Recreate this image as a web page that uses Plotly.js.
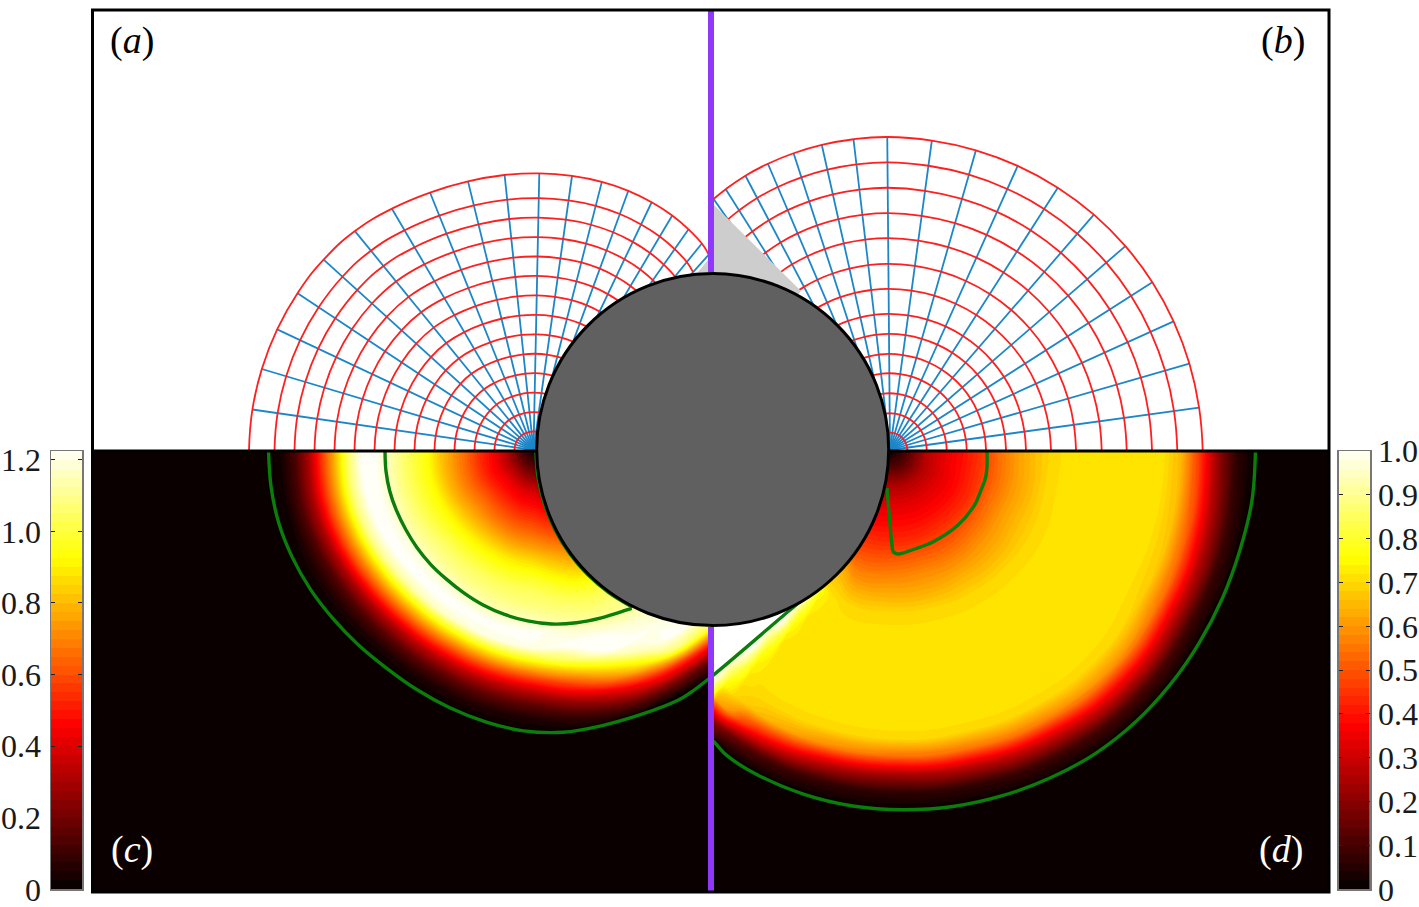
<!DOCTYPE html>
<html><head><meta charset="utf-8">
<script src="https://cdn.plot.ly/plotly-3.0.1.min.js"></script>
<style>html,body{margin:0;padding:0;background:#fff}#g{width:1419px;height:907px}</style>
</head><body><div id="g"></div>
<script>
// ---------- all coordinates (pixels of the reference) ----------
const frameX=[92.5,1329], frameY=[892,10];
const leftC=[533.5,450], rightC=[890,450];
const sphereC=[712.7,449.6], sphereR=176;
const planeX=711;

// mesh, panel (a): ray angles from -x, edge distance per angle, ring radii on the axis
const aAngles=[0,8.2,16.6,25.2,33.6,42.2,50.8,59.6,68.1,76.3,84,91.2,98,104.3,110.1,115.5,120.6,125.1,129.2,131.9];
const aEdge=[284.5,284,283.5,283.3,283.3,283.3,282.5,279.8,277.5,276.5,276.5,276.7,276.8,276.7,276,274.5,272.5,269.7,266.4,262.5];
const aRings=[284.5,259,239,219,199,179,159,139,119,99,79,59,39,19];
// mesh, panel (b): ray angles from +x
const bAngles=[0,7.8,16.1,24.4,32.6,40.9,49.1,57.4,65.8,74,82.3,90.5,96.7,102.6,108,113.1,117.8,122.2,125.1];
const bEdge=[312.7,312,311.6,311.4,311.4,311.4,311.4,311.4,311.5,311.8,312.2,313,312.9,312.6,312,311.2,310,308.2,306.8];
const bRings=[312.7,287.3,262,236.7,211.7,186,161,136,116,96,76.7,56.7,36.7,17.3];

// fields: fraction of the distance to the outer contour, angle rows and values
const rho=[0.01,0.05,0.1,0.15,0.2,0.25,0.3,0.35,0.4,0.45,0.5,0.55,0.6,0.65,0.7,0.75,0.8,0.85,0.9,0.95,1];
const cAngles=[0,7.5,15,22.5,30,37.5,45,52.5,60,67.5,75,82.5,90,100,110,118,125,132,140];
const cOuter=[265,265,265,264,263,262,262,263,265.5,268.5,273,277.5,282,284,284.5,285,287,292,298];
const cField=[
[.05,.15,.32,.44,.52,.62,.71,.8,.91,.98,1.05,1.13,1.2,1.2,1.02,.77,.54,.29,.12,.03,0],
[.05,.15,.315,.435,.515,.615,.705,.795,.905,.975,1.045,1.125,1.195,1.2,1.035,.78,.545,.295,.125,.03,0],
[.05,.15,.31,.43,.51,.61,.70,.79,.90,.97,1.04,1.12,1.19,1.2,1.05,.79,.55,.30,.13,.03,0],
[.05,.145,.305,.425,.505,.605,.695,.785,.895,.965,1.035,1.11,1.185,1.205,1.065,.80,.56,.305,.13,.035,0],
[.05,.14,.3,.42,.5,.6,.69,.78,.89,.96,1.03,1.1,1.18,1.21,1.08,.81,.57,.31,.13,.04,0],
[.05,.14,.3,.42,.5,.6,.69,.78,.885,.96,1.03,1.095,1.175,1.21,1.09,.82,.575,.315,.135,.04,0],
[.05,.14,.3,.42,.5,.6,.69,.78,.88,.96,1.03,1.09,1.17,1.21,1.1,.83,.58,.32,.14,.04,0],
[.05,.135,.29,.415,.495,.59,.68,.775,.875,.955,1.025,1.08,1.16,1.21,1.12,.84,.585,.325,.145,.04,0],
[.05,.13,.28,.41,.49,.58,.67,.77,.87,.95,1.02,1.07,1.15,1.21,1.14,.85,.59,.33,.15,.04,0],
[.05,.13,.27,.4,.48,.57,.66,.76,.865,.945,1.015,1.065,1.135,1.205,1.155,.86,.595,.335,.155,.045,0],
[.05,.13,.26,.39,.47,.56,.65,.75,.86,.94,1.01,1.06,1.12,1.2,1.17,.87,.6,.34,.16,.05,0],
[.05,.125,.255,.385,.465,.555,.645,.745,.855,.94,1.01,1.055,1.12,1.2,1.175,.885,.605,.345,.165,.05,0],
[.05,.12,.25,.38,.46,.55,.64,.74,.85,.94,1.01,1.05,1.12,1.2,1.18,.9,.62,.36,.17,.05,0],
[.05,.11,.22,.34,.43,.51,.6,.7,.8,.89,.97,1.03,1.08,1.16,1.2,1.02,.75,.5,.26,.1,0],
[.05,.1,.2,.3,.4,.48,.56,.65,.74,.83,.92,1.0,1.05,1.12,1.2,1.2,.93,.7,.4,.18,0],
[.05,.1,.2,.3,.4,.48,.56,.65,.74,.83,.92,1.0,1.05,1.09,1.16,1.2,1.12,.86,.52,.22,0],
[.05,.1,.2,.3,.4,.48,.56,.65,.74,.83,.92,1.0,1.05,1.09,1.14,1.18,1.2,1.05,.55,.2,0],
[.05,.1,.2,.3,.4,.48,.56,.65,.74,.83,.92,1.0,1.05,1.09,1.12,1.16,1.19,1.0,.5,.13,0],
[.05,.1,.2,.3,.4,.48,.56,.65,.74,.83,.92,1.0,1.05,1.09,1.12,1.16,1.19,1.0,.5,.13,0]];
const dAngles=[0,15,30,45,60,75,90,105,112,116,119,122,125,128,135];
const dOuter=[365,364,364,366,366,363,360,354,350,347,344,341,338,335,330];
const dField=[
[.03,.12,.26,.33,.38,.44,.53,.6,.65,.69,.7,.7,.7,.7,.7,.7,.63,.44,.21,.06,0],
[.03,.12,.26,.33,.38,.44,.52,.59,.64,.69,.7,.7,.7,.7,.7,.7,.65,.49,.26,.08,0],
[.03,.12,.25,.32,.37,.43,.52,.59,.64,.68,.7,.7,.7,.7,.7,.7,.67,.54,.3,.09,0],
[.03,.12,.25,.32,.37,.43,.51,.58,.63,.68,.7,.7,.7,.7,.7,.7,.69,.58,.34,.11,0],
[.03,.12,.25,.32,.37,.43,.5,.57,.63,.68,.7,.7,.7,.7,.7,.7,.69,.56,.3,.09,0],
[.03,.12,.25,.32,.37,.42,.5,.57,.62,.68,.7,.7,.7,.7,.7,.7,.69,.54,.27,.07,0],
[.03,.12,.25,.32,.37,.42,.49,.56,.62,.68,.7,.7,.7,.7,.7,.7,.69,.53,.24,.06,0],
[.03,.12,.24,.31,.36,.42,.48,.55,.62,.68,.7,.7,.7,.7,.7,.7,.69,.58,.3,.08,0],
[.03,.12,.24,.31,.36,.42,.48,.6,.66,.7,.7,.7,.7,.7,.7,.7,.69,.62,.36,.1,0],
[.03,.12,.24,.31,.36,.42,.48,.58,.66,.74,.72,.7,.7,.7,.7,.7,.69,.64,.4,.12,0],
[.03,.12,.24,.31,.36,.42,.48,.6,.7,.82,.86,.78,.73,.7,.7,.7,.69,.66,.47,.15,0],
[.03,.12,.24,.31,.36,.42,.48,.6,.75,.9,.98,1,.95,.83,.76,.72,.7,.68,.58,.2,0],
[.03,.12,.24,.31,.36,.42,.48,.6,.8,.95,1,1,1,1,1,.92,.82,.74,.62,.22,0],
[.03,.12,.24,.31,.36,.42,.48,.6,.8,.95,1,1,1,1,1,1,1,1,.9,.4,0],
[.03,.12,.24,.31,.36,.42,.48,.6,.8,.95,1,1,1,1,1,1,1,1,1,.5,0]];

// green contours: angle and distance from each contact point
const gLOAngles=[0,8,16,24,32,40,48,56,64,72,80,88,96,104,112,120];
const gLORadii=[265,265,265,264,263,262,262,263,266.5,271,276,281,283.8,284,285.5,289];
const gDiagX=[690,711,790,801];
const gDiagY=[693,677,610,601];
const gLIAngles=[0,8,16,24,32,40,48,56,64,72,80,88,96,104,112,120,121.8];
const gLIRadii=[148.5,149,149.5,149.8,150.5,152,153.8,155.8,159,163,167,171,175,178,181,185,186.3];
const gRimAngles=[0,9,18,27,36,45,54,63];
const gROAngles=[0,8,16,24,32,40,48,56,64,72,80,88,96,104,112,118,121,124];
const gRORadii=[365.5,365.5,364,364,364.5,365.5,366.5,366.5,365,363.5,362,360,358,355,351,346.5,341,337];
const gRightInnerX=[987,987,985.5,981,974.5,958,932.7,914.5,898,893.5,892.7,889,887];
const gRightInnerY=[452,465,478,490,505,525,542,549,554,552,550,512,488];

// colour-bar steps and ticks
const cLevels=[0,.025,.05,.075,.1,.125,.15,.175,.2,.225,.25,.275,.3,.325,.35,.375,.4,.425,.45,.475,.5,.525,.55,.575,.6,.625,.65,.675,.7,.725,.75,.775,.8,.825,.85,.875,.9,.925,.95,.975,1,1.025,1.05,1.075,1.1,1.125,1.15,1.175,1.2,1.2243];
const dLevels=[0,.02,.04,.06,.08,.1,.12,.14,.16,.18,.2,.22,.24,.26,.28,.3,.32,.34,.36,.38,.4,.42,.44,.46,.48,.5,.52,.54,.56,.58,.6,.62,.64,.66,.68,.7,.72,.74,.76,.78,.8,.82,.84,.86,.88,.9,.92,.94,.96,.98,1];
const cTicks=[0,.2,.4,.6,.8,1,1.2], cTickText=['0','0.2','0.4','0.6','0.8','1.0','1.2'];
const dTicks=[0,.1,.2,.3,.4,.5,.6,.7,.8,.9,1], dTickText=['0','0.1','0.2','0.3','0.4','0.5','0.6','0.7','0.8','0.9','1.0'];

const hot=[[0,'#0a0000'],[0.365,'#ff0000'],[0.746,'#ffff00'],[1,'#ffffff']];
const RED='#ff1f1f',BLUE='#1c86c8',GREEN='#0b7d0b',PURPLE='#9038f8',SERIF='"Liberation Serif","Times New Roman",serif';
const W=1419,H=907;
const rad=d=>d*Math.PI/180;

const traces=[];
function mesh(c,sign,angles,edge,rings,xa,ya){
  angles.forEach((t,i)=>{ if(i===0) return;
    traces.push({type:'scatter',mode:'lines',xaxis:xa,yaxis:ya,hoverinfo:'skip',showlegend:false,
      x:[c[0],c[0]+sign*edge[i]*Math.cos(rad(t))],y:[c[1],c[1]-edge[i]*Math.sin(rad(t))],
      line:{color:BLUE,width:1.8}});
  });
  rings.forEach(r=>{const f=r/rings[0];
    traces.push({type:'scatter',mode:'lines',xaxis:xa,yaxis:ya,hoverinfo:'skip',showlegend:false,
      x:angles.map((t,i)=>c[0]+sign*f*edge[i]*Math.cos(rad(t))),
      y:angles.map((t,i)=>c[1]-f*edge[i]*Math.sin(rad(t))),
      line:{color:RED,width:1.8,shape:'spline',smoothing:1.3,simplify:false}});
  });
}
mesh(leftC,-1,aAngles,aEdge,aRings,'x','y');
mesh(rightC,1,bAngles,bEdge,bRings,'x2','y2');

function field(id,c,sign,angles,outer,z,zmax,size,xa,ya){
  const hidden={showgrid:false,showline:false,showticklabels:'none',startlinewidth:0,endlinewidth:0,minorgridcount:0,tickmode:'array',tickvals:[],smoothing:1};
  traces.push({type:'carpet',carpet:id,xaxis:xa,yaxis:ya,a:rho,b:angles,
    x:angles.map((t,j)=>rho.map(p=>c[0]+sign*p*outer[j]*Math.cos(rad(t)))),
    y:angles.map((t,j)=>rho.map(p=>c[1]+p*outer[j]*Math.sin(rad(t)))),
    aaxis:hidden,baxis:hidden});
  traces.push({type:'contourcarpet',carpet:id,xaxis:xa,yaxis:ya,a:rho,b:angles,z:z,colorscale:hot,zmin:0,zmax:zmax,
    autocontour:false,contours:{start:size/2,end:zmax,size:size,coloring:'fill',showlines:false},line:{width:0,smoothing:1.3},showscale:false,hoverinfo:'skip'});
}
field('cc',leftC,-1,cAngles,cOuter,cField,1.2243,0.019,'x','y');
field('dd',rightC,1,dAngles,dOuter,dField,1,0.0156,'x2','y2');

function green(x,y,w,xa,ya){
  traces.push({type:'scatter',mode:'lines',xaxis:xa||'x3',yaxis:ya||'y3',x:x,y:y,hoverinfo:'skip',showlegend:false,line:{color:GREEN,width:w,shape:'spline',smoothing:1,simplify:false}});
}
const polarX=(c,s,ang,r)=>ang.map((t,i)=>c[0]+s*r[i]*Math.cos(rad(t)));
const polarY=(c,ang,r)=>ang.map((t,i)=>c[1]+r[i]*Math.sin(rad(t)));
green(polarX(rightC,1,gROAngles,gRORadii),polarY(rightC,gROAngles,gRORadii),3.4,'x2','y2');
green(polarX(leftC,-1,gLOAngles,gLORadii).concat(gDiagX),polarY(leftC,gLOAngles,gLORadii).concat(gDiagY),3.4);
green(polarX(leftC,-1,gLIAngles,gLIRadii),polarY(leftC,gLIAngles,gLIRadii),3.4);
green(gRightInnerX,gRightInnerY,3.4);
green(gRimAngles.map(t=>sphereC[0]-(sphereR+1.8)*Math.cos(rad(t))),gRimAngles.map(t=>sphereC[1]+(sphereR+1.8)*Math.sin(rad(t))),1.5);

function ramp(levels,xa,ya){
  traces.push({type:'heatmap',xaxis:xa,yaxis:ya,x:[0,1],y:levels,z:levels.slice(0,-1).map(v=>[v]),colorscale:hot,zmin:0,zmax:levels[levels.length-1],zsmooth:false,showscale:false,hoverinfo:'skip'});
}
ramp(cLevels,'x4','y4');
ramp(dLevels,'x5','y5');

const hide={visible:false,fixedrange:true};
const barY=[1-889.3/H,1-451/H];
function barAxis(side,ticks,text,top,anchor,standoff){
  return {anchor:anchor,side:side,domain:barY,range:[0,top],tickmode:'array',tickvals:ticks,ticktext:text,ticks:'inside',ticklen:4,tickcolor:'#222',tickwidth:1,
    showline:true,linecolor:'#777',linewidth:1.5,mirror:'ticks',showgrid:false,zeroline:false,ticklabelstandoff:standoff,ticklabeloverflow:'allow',
    tickfont:{family:SERIF,size:32,color:'#1a1a1a'},fixedrange:true};
}
const px=v=>v/W, py=v=>1-v/H;
const layout={
  width:W,height:H,margin:{l:0,r:0,t:0,b:0,pad:0},paper_bgcolor:'#fff',plot_bgcolor:'rgba(0,0,0,0)',showlegend:false,
  xaxis:{...hide,domain:[frameX[0]/W,planeX/W],range:[frameX[0],planeX]},
  yaxis:{...hide,domain:[1-frameY[0]/H,1-frameY[1]/H],range:frameY,anchor:'x'},
  xaxis2:{...hide,domain:[planeX/W,frameX[1]/W],range:[planeX,frameX[1]],anchor:'y2'},
  yaxis2:{...hide,domain:[1-frameY[0]/H,1-frameY[1]/H],range:frameY,anchor:'x2'},
  xaxis3:{...hide,domain:[frameX[0]/W,frameX[1]/W],range:frameX,anchor:'y3'},
  yaxis3:{...hide,domain:[1-frameY[0]/H,1-frameY[1]/H],range:frameY,anchor:'x3'},
  xaxis4:{domain:[51/W,82.3/W],range:[0,1],anchor:'y4',showticklabels:false,ticks:'',showline:true,linecolor:'#777',linewidth:1.5,mirror:true,showgrid:false,zeroline:false,fixedrange:true},
  yaxis4:barAxis('left',cTicks,cTickText,1.2243,'x4',2),
  xaxis5:{domain:[1338.7/W,1370/W],range:[0,1],anchor:'y5',showticklabels:false,ticks:'',showline:true,linecolor:'#777',linewidth:1.5,mirror:true,showgrid:false,zeroline:false,fixedrange:true},
  yaxis5:barAxis('right',dTicks,dTickText,1,'x5',0),
  shapes:[
    {type:'rect',layer:'below',xref:'x',yref:'y',x0:frameX[0],x1:planeX,y0:451,y1:892,fillcolor:'#0a0000',line:{width:0}},
    {type:'rect',layer:'below',xref:'x2',yref:'y2',x0:planeX,x1:frameX[1],y0:451,y1:892,fillcolor:'#0a0000',line:{width:0}},
    {type:'path',layer:'above',xref:'x3',yref:'y3',path:'M714,205 L801,291 L712,400 L698,272 L708,260 Z',fillcolor:'#cdcdcd',line:{width:0}},
    {type:'circle',layer:'above',xref:'x3',yref:'y3',x0:sphereC[0]-sphereR,x1:sphereC[0]+sphereR,y0:sphereC[1]-sphereR,y1:sphereC[1]+sphereR,fillcolor:'#606060',line:{color:'#000',width:3}},
    {type:'line',layer:'above',xref:'x3',yref:'y3',x0:frameX[0],x1:536,y0:451,y1:451,line:{color:'#000',width:3}},
    {type:'line',layer:'above',xref:'x3',yref:'y3',x0:889,x1:frameX[1],y0:451,y1:451,line:{color:'#000',width:3}},
    {type:'line',layer:'above',xref:'x3',yref:'y3',x0:planeX,x1:planeX,y0:10,y1:272,line:{color:PURPLE,width:6}},
    {type:'line',layer:'above',xref:'x3',yref:'y3',x0:planeX,x1:planeX,y0:627,y1:892,line:{color:PURPLE,width:6}},
    {type:'rect',layer:'above',xref:'paper',yref:'paper',x0:px(frameX[0]),x1:px(frameX[1]),y0:py(892),y1:py(10),line:{color:'#000',width:3}}
  ],
  annotations:[['(<i>a</i>)',132,41,'#000'],['(<i>b</i>)',1283,41,'#000'],['(<i>c</i>)',132,849,'#fff'],['(<i>d</i>)',1281,849,'#fff']].map(a=>({
    text:a[0],x:a[1],y:a[2],xref:'x3',yref:'y3',showarrow:false,xanchor:'center',yanchor:'middle',font:{family:SERIF,size:38,color:a[3]}}))
};
Plotly.newPlot('g',traces,layout,{displayModeBar:false,staticPlot:true});
</script></body></html>
